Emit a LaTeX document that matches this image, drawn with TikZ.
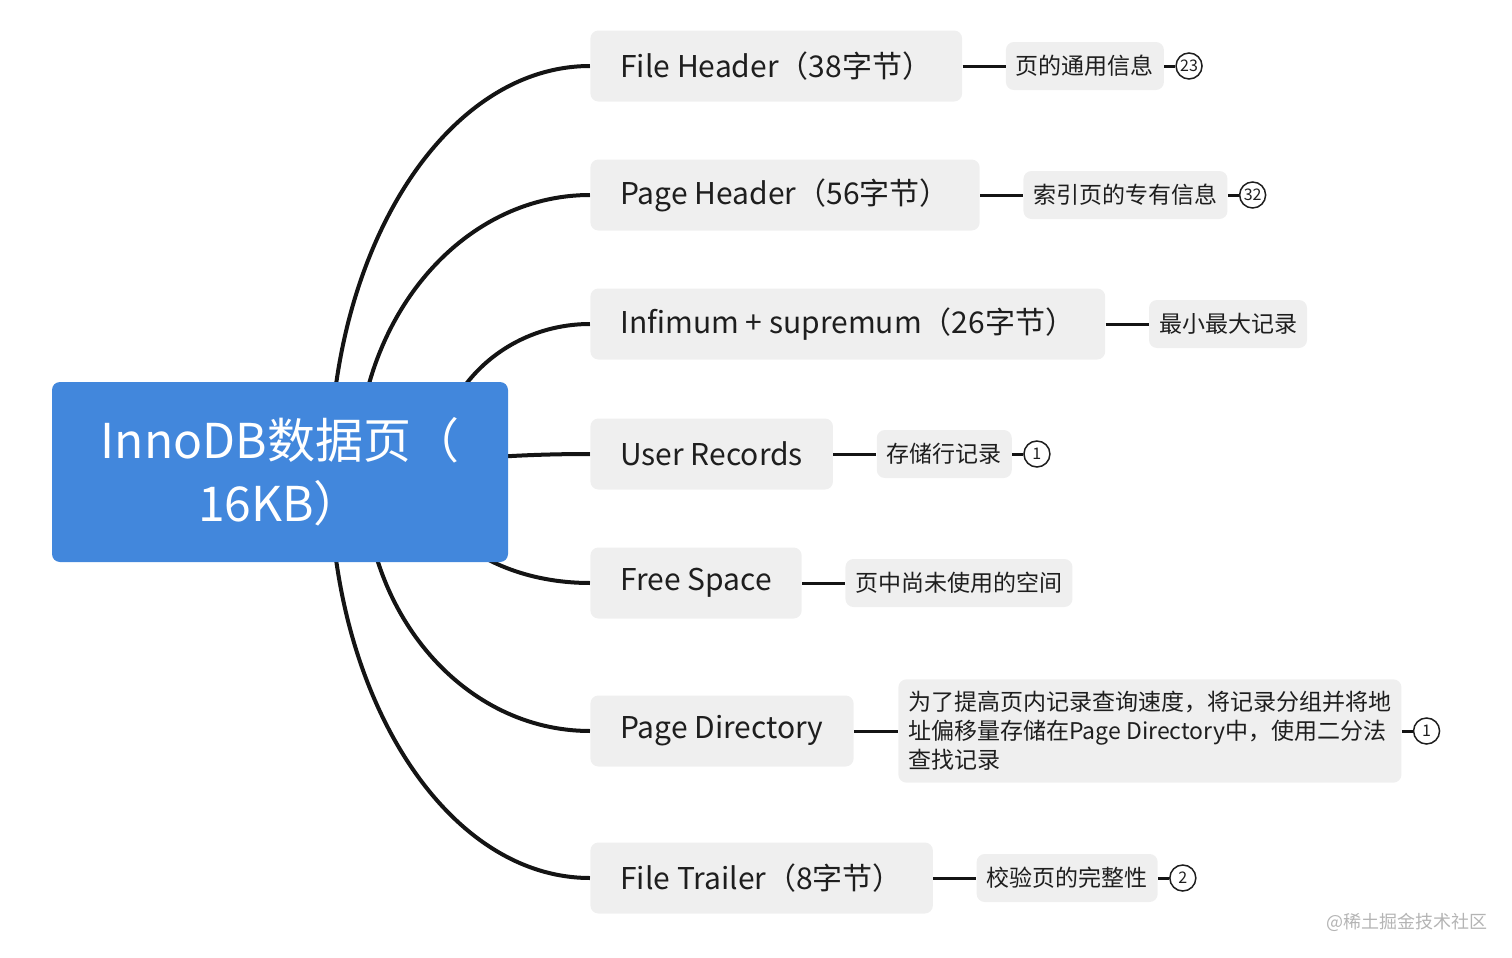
\documentclass[tikz,border=0pt]{standalone}
\usepackage{fontspec}
\setmainfont{Noto Sans CJK SC}
\usepackage{xcolor}
\usepackage{tikz}
\usetikzlibrary{positioning,backgrounds,calc}

\definecolor{rootblue}{HTML}{4287DC}
\definecolor{boxgray}{HTML}{EFEFEF}
\definecolor{inkgray}{HTML}{1E1E1E}
\definecolor{markgray}{HTML}{B4B4B4}

\begin{document}
\begin{tikzpicture}[
  x=0.5pt, y=-0.5pt,
  link/.style={line width=2pt, black!92},
  tie/.style={line width=1.5pt, black!92},
  root/.style={fill=rootblue, text=white, rounded corners=4pt, minimum width=228pt, minimum height=90pt, align=center, font=\fontsize{24}{31.5}\selectfont},
  part/.style={fill=boxgray, text=inkgray, rounded corners=4pt, anchor=west, minimum height=35.5pt, inner xsep=15pt, font=\fontsize{15}{18}\selectfont},
  note/.style={fill=boxgray, text=inkgray, rounded corners=4pt, minimum height=24pt, inner xsep=5pt, font=\fontsize{11.5}{14.5}\selectfont},
  badge/.style={circle, draw=inkgray, line width=0.75pt, minimum size=13pt, inner sep=0pt, text=inkgray, font=\fontsize{8}{8}\selectfont}
]
  \useasboundingbox (0,0) rectangle (1512,958);

  % root
  \node[root] (root) at (280,472) {InnoDB数据页（\\16KB）};

  % parts of the page
  \node[part] (fh) at (590,66)  {File Header（38字节）};
  \node[part] (ph) at (590,195) {Page Header（56字节）};
  \node[part] (is) at (590,324) {Infimum + supremum（26字节）};
  \node[part] (ur) at (590,454) {User Records};
  \node[part] (fs) at (590,583) {Free Space};
  \node[part] (pd) at (590,731) {Page Directory};
  \node[part] (ft) at (590,878) {File Trailer（8字节）};

  % notes
  \node[note, right=21.5pt of fh] (fhn) {页的通用信息};
  \node[note, right=21.5pt of ph] (phn) {索引页的专有信息};
  \node[note, right=21.5pt of is] (isn) {最小最大记录};
  \node[note, right=21.5pt of ur] (urn) {存储行记录};
  \node[note, right=21.5pt of fs] (fsn) {页中尚未使用的空间};
  \node[note, right=22pt of pd, align=left, inner ysep=6pt] (pdn) {为了提高页内记录查询速度，将记录分组并将地\\址偏移量存储在Page Directory中，使用二分法\\查找记录};
  \node[note, right=21.5pt of ft] (ftn) {校验页的完整性};

  % counters
  \node[badge, right=5.5pt of fhn] (fhc) {23};
  \node[badge, right=5.5pt of phn] (phc) {32};
  \node[badge, right=5.5pt of urn] (urc) {1};
  \node[badge, right=5.5pt of pdn] (pdc) {1};
  \node[badge, right=5.5pt of ftn] (ftc) {2};

  % branches
  \begin{pgfonlayer}{background}
    \draw[link] ($(root.center)+(50,0)$)  .. controls +(0,-224) and +(-144,0) .. (fh.west);
    \draw[link] ($(root.center)+(77,0)$)  .. controls +(0,-153) and +(-129,0) .. (ph.west);
    \draw[link] ($(root.center)+(156,0)$) .. controls +(0,-82)  and +(-85,0)  .. (is.west);
    \draw[link] ($(root.center)+(140,0)$) .. controls +(0,-10)  and +(-94,0)  .. (ur.west);
    \draw[link] ($(root.center)+(144,0)$) .. controls +(0,61)   and +(-92,0)  .. (fs.west);
    \draw[link] ($(root.center)+(84,0)$)  .. controls +(0,143)  and +(-125,0) .. (pd.west);
    \draw[link] ($(root.center)+(50,0)$)  .. controls +(0,224)  and +(-144,0) .. (ft.west);
  \end{pgfonlayer}

  % ties
  \draw[tie] (fh) -- (fhn);
  \draw[tie] (ph) -- (phn);
  \draw[tie] (is) -- (isn);
  \draw[tie] (ur) -- (urn);
  \draw[tie] (fs) -- (fsn);
  \draw[tie] (pd) -- (pdn);
  \draw[tie] (ft) -- (ftn);
  \draw[tie] (fhn) -- (fhc);
  \draw[tie] (phn) -- (phc);
  \draw[tie] (urn) -- (urc);
  \draw[tie] (pdn) -- (pdc);
  \draw[tie] (ftn) -- (ftc);

  % watermark
  \node[text=markgray, font=\fontsize{9}{9}\selectfont] (mark) at (1407,922) {@稀土掘金技术社区};
\end{tikzpicture}
\end{document}
